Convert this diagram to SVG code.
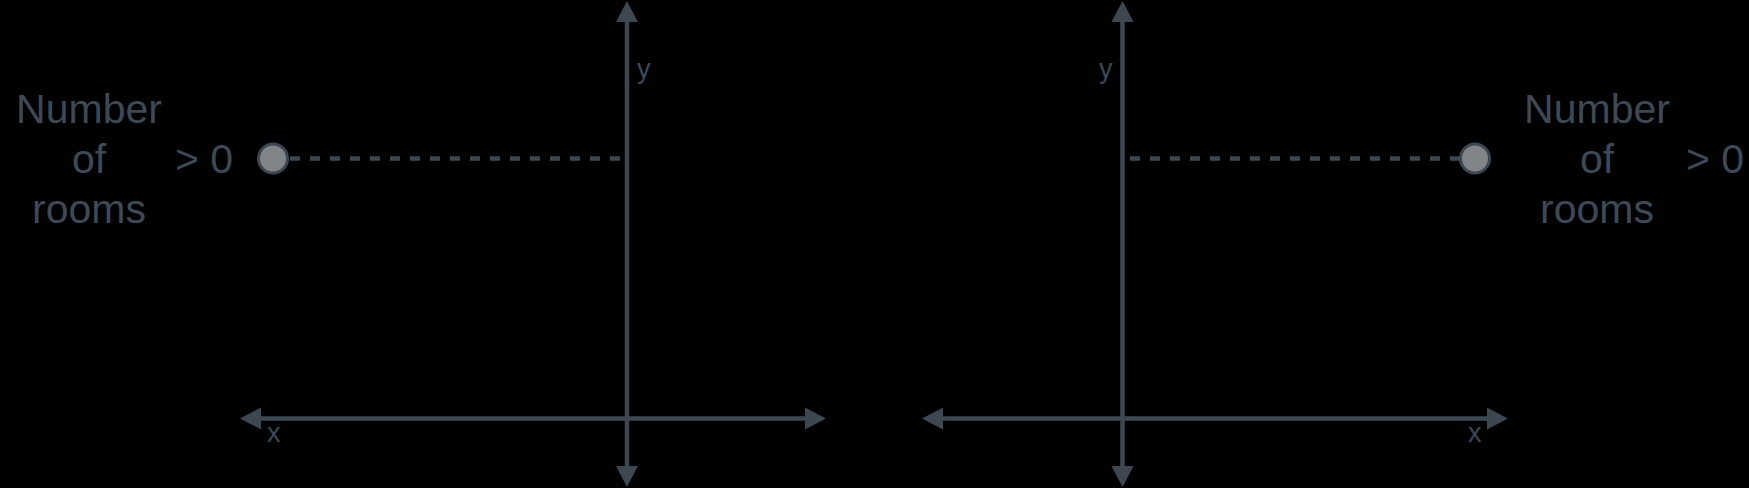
<svg xmlns="http://www.w3.org/2000/svg" width="1749" height="488" viewBox="0 0 1749 488">
<defs>
<marker id="arr" markerUnits="userSpaceOnUse" markerWidth="21" markerHeight="22" refX="0" refY="11" orient="auto-start-reverse" viewBox="0 0 21 22">
<path d="M0,0 L21,11 L0,22 Z" fill="#3c4752"/>
</marker>
<style>
.axis{stroke:#3c4752;stroke-width:4.5;fill:none}
.dash{stroke:#3c4752;stroke-width:4.5;fill:none;stroke-dasharray:10 10}
.dot{fill:#828588;stroke:#3c4752;stroke-width:3}
.big{font-family:"Liberation Sans",Arial,sans-serif;font-size:41px;fill:#3d4955}
.small{font-family:"Liberation Sans",Arial,sans-serif;font-size:27px;fill:#3d4955}
</style>
</defs>
<rect width="1749" height="488" fill="#000"/>
<g id="connectors">
<line class="axis" x1="627" y1="466" x2="627" y2="22" marker-start="url(#arr)" marker-end="url(#arr)"/>
<line class="axis" x1="261" y1="418.5" x2="805" y2="418.5" marker-start="url(#arr)" marker-end="url(#arr)"/>
<line class="axis" x1="1122.5" y1="466" x2="1122.5" y2="22" marker-start="url(#arr)" marker-end="url(#arr)"/>
<line class="axis" x1="943" y1="418.5" x2="1487" y2="418.5" marker-start="url(#arr)" marker-end="url(#arr)"/>
<line class="dash" x1="290" y1="158.5" x2="620" y2="158.5"/>
<line class="dash" x1="1130" y1="158.5" x2="1460" y2="158.5"/>
</g>
<g id="left-labels">
<text class="small" x="637" y="78">y</text>
<text class="small" x="267" y="442">x</text>
</g>
<g id="right-labels">
<text class="small" x="1099" y="78">y</text>
<text class="small" x="1468" y="442">x</text>
</g>
<g id="left-point">
<circle class="dot" cx="273" cy="158.5" r="14.5"/>
<text class="big" x="89" y="123" text-anchor="middle">Number</text>
<text class="big" x="89" y="173" text-anchor="middle">of</text>
<text class="big" x="89" y="223" text-anchor="middle">rooms</text>
<text class="big" x="175" y="173">&gt; 0</text>
</g>
<g id="right-point">
<circle class="dot" cx="1475" cy="158.5" r="14.5"/>
<text class="big" x="1597" y="123" text-anchor="middle">Number</text>
<text class="big" x="1597" y="173" text-anchor="middle">of</text>
<text class="big" x="1597" y="223" text-anchor="middle">rooms</text>
<text class="big" x="1686" y="173">&gt; 0</text>
</g>
</svg>
